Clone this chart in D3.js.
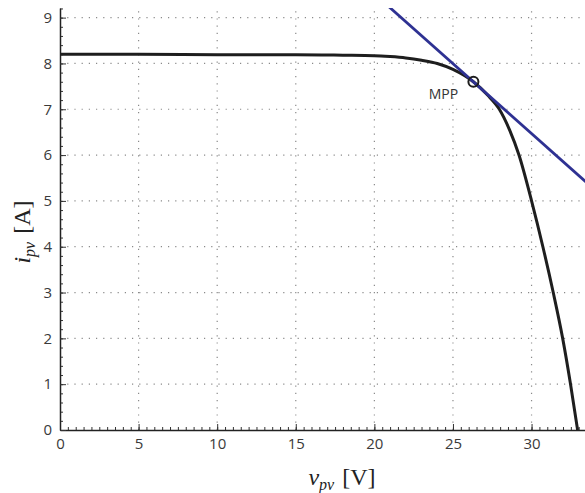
<!DOCTYPE html>
<html>
<head>
<meta charset="utf-8">
<script src="https://cdn.jsdelivr.net/npm/d3@7"></script>
<style>
  html, body { margin: 0; padding: 0; background: #fff; }
  svg { display: block; }
  .tick text { font-family: "Open Sans", sans-serif; font-size: 15px; fill: #3a3a3a; }
</style>
</head>
<body>
<div id="chart"></div>
<script>
// I-V curve of the PV module
const pvVoltage = [0, 5, 10, 15, 18, 20, 21, 22, 23, 24, 25, 26.3, 27.2, 27.95, 28.6, 29.2, 30.0, 30.72, 31.38, 31.98, 32.48, 32.93];
const pvCurrent = [8.20, 8.20, 8.19, 8.19, 8.18, 8.17, 8.15, 8.12, 8.07, 8.00, 7.87, 7.60, 7.31, 7.00, 6.55, 6.00, 5.00, 4.00, 3.00, 2.00, 1.00, 0];

// tangent line through the MPP (end points, clipped by the plot area)
const tangentVoltage = [20, 34];
const tangentCurrent = [9.52, 5.25];

// maximum power point
const mppVoltage = 26.3;
const mppCurrent = 7.6;
const mppLabel = "MPP";

const xTicks = [0, 5, 10, 15, 20, 25, 30];
const yTicks = [0, 1, 2, 3, 4, 5, 6, 7, 8, 9];

const width = 585, height = 493;
const m = { left: 60, bottom: 430, top: 8, right: 585 };

const svg = d3.select("#chart").append("svg")
  .attr("width", width)
  .attr("height", height);

const x = d3.scaleLinear().domain([0, 33.4]).range([m.left, m.right]);
const y = d3.scaleLinear().domain([0, 9.21]).range([m.bottom, m.top]);

// clip for marks
svg.append("clipPath").attr("id", "plot-clip")
  .append("rect")
  .attr("x", m.left).attr("y", m.top)
  .attr("width", m.right - m.left).attr("height", m.bottom - m.top);

// dotted grid
const grid = svg.append("g").attr("stroke", "#8a8a8a").attr("stroke-width", 1.2)
  .attr("stroke-dasharray", "1.2,6");
grid.selectAll("line.gx")
  .data(xTicks.filter(d => d > 0))
  .join("line")
  .attr("class", "gx")
  .attr("x1", d => x(d)).attr("x2", d => x(d))
  .attr("y1", m.bottom).attr("y2", m.top);
grid.selectAll("line.gy")
  .data(yTicks.filter(d => d > 0))
  .join("line")
  .attr("class", "gy")
  .attr("x1", m.left).attr("x2", m.right)
  .attr("y1", d => y(d)).attr("y2", d => y(d));

// minor ticks
const xMinor = d3.range(0, 33.4, 0.5);
const yMinor = d3.range(0, 9.21, 0.2);
svg.append("g")
  .attr("transform", `translate(0,${m.bottom})`)
  .call(d3.axisBottom(x).tickValues(xMinor).tickSize(-3).tickFormat(""))
  .call(g => g.select(".domain").remove())
  .call(g => g.selectAll("line").attr("stroke", "#333"));
svg.append("g")
  .attr("transform", `translate(${m.left},0)`)
  .call(d3.axisLeft(y).tickValues(yMinor).tickSize(-3).tickFormat(""))
  .call(g => g.select(".domain").remove())
  .call(g => g.selectAll("line").attr("stroke", "#333"));

// major axes
svg.append("g")
  .attr("transform", `translate(0,${m.bottom})`)
  .call(d3.axisBottom(x).tickValues(xTicks).tickSize(-6).tickSizeOuter(0).tickPadding(8).tickFormat(d3.format("d")))
  .call(g => g.select(".domain").attr("stroke", "#222").attr("stroke-width", 1.5))
  .call(g => g.selectAll("line").attr("stroke", "#333"));
svg.append("g")
  .attr("transform", `translate(${m.left},0)`)
  .call(d3.axisLeft(y).tickValues(yTicks).tickSize(-6).tickSizeOuter(0).tickPadding(8).tickFormat(d3.format("d")))
  .call(g => g.select(".domain").attr("stroke", "#222").attr("stroke-width", 1.5))
  .call(g => g.selectAll("line").attr("stroke", "#333"));

// I-V curve
const curve = pvVoltage.map((v, i) => ({ v, i: pvCurrent[i] }));
const line = d3.line().x(d => x(d.v)).y(d => y(d.i)).curve(d3.curveMonotoneX);
svg.append("path")
  .attr("clip-path", "url(#plot-clip)")
  .attr("d", line(curve))
  .attr("fill", "none")
  .attr("stroke", "#1e1e1e")
  .attr("stroke-width", 3);

// tangent
const tangent = tangentVoltage.map((v, i) => ({ v, i: tangentCurrent[i] }));
svg.append("path")
  .attr("clip-path", "url(#plot-clip)")
  .attr("d", d3.line().x(d => x(d.v)).y(d => y(d.i))(tangent))
  .attr("fill", "none")
  .attr("stroke", "#2e3192")
  .attr("stroke-width", 2.8);

// MPP marker + label
svg.append("circle")
  .attr("cx", x(mppVoltage)).attr("cy", y(mppCurrent))
  .attr("r", 5)
  .attr("fill", "none")
  .attr("stroke", "#1e1e1e")
  .attr("stroke-width", 2);
svg.append("text")
  .attr("x", x(mppVoltage) - 30).attr("y", y(mppCurrent) + 17)
  .attr("text-anchor", "middle")
  .attr("font-family", "Open Sans, sans-serif")
  .attr("font-size", 14)
  .attr("fill", "#333")
  .text(mppLabel);

// axis titles (LaTeX-like)
const xt = svg.append("text")
  .attr("x", 342).attr("y", 485)
  .attr("text-anchor", "middle")
  .attr("font-family", "Liberation Serif, serif")
  .attr("font-size", 24)
  .attr("fill", "#222");
xt.append("tspan").attr("font-style", "italic").text("v");
xt.append("tspan").attr("font-style", "italic").attr("font-size", 16).attr("dy", 5).text("pv");
xt.append("tspan").attr("dy", -5).attr("dx", 8).text("[V]");

const yt = svg.append("text")
  .attr("transform", "translate(30,232) rotate(-90)")
  .attr("text-anchor", "middle")
  .attr("font-family", "Liberation Serif, serif")
  .attr("font-size", 24)
  .attr("fill", "#222");
yt.append("tspan").attr("font-style", "italic").text("i");
yt.append("tspan").attr("font-style", "italic").attr("font-size", 16).attr("dy", 5).text("pv");
yt.append("tspan").attr("dy", -5).attr("dx", 8).text("[A]");
</script>
</body>
</html>
